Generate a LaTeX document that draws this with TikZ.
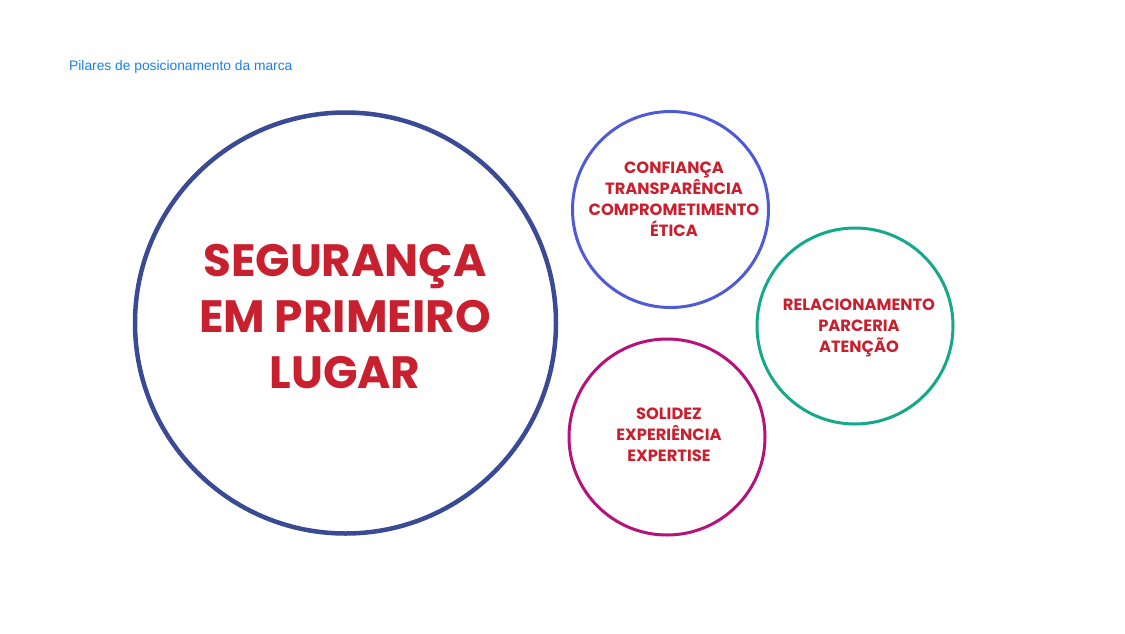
\documentclass[tikz,border=0pt]{standalone}
\usepackage{fontspec}
\setmainfont{Poppins}
\newfontfamily\titlefont{Liberation Sans}
\definecolor{navy}{HTML}{3A4A94}
\definecolor{cblue}{HTML}{4F5BD5}
\definecolor{cgreen}{HTML}{14A98A}
\definecolor{cmag}{HTML}{B5127A}
\definecolor{tred}{HTML}{C8202F}
\definecolor{ttl}{HTML}{1A7FE6}
\tikzset{
  pillar/.style={circle, line width=3pt, minimum size=196pt, inner sep=0pt},
  smalltxt/.style={text=tred, font=\bfseries\fontsize{16.3}{21}\selectfont, align=center},
  bigtxt/.style={text=tred, font=\bfseries\fontsize{45.3}{56}\selectfont, align=center}
}
\begin{document}
\begin{tikzpicture}[x=1pt,y=-1pt]
\useasboundingbox (0,0) rectangle (1125,633);
\node[anchor=west, text=ttl, font=\titlefont\fontsize{13.8}{16}\selectfont, inner sep=0pt] (title) at (69,66.5) {Pilares de posicionamento da marca};
\node[circle, draw=navy, line width=4.5pt, minimum size=421pt, inner sep=0pt] (main) at (345.5,323) {};
\node[pillar, draw=cblue] (c1) at (670.5,209.5) {};
\node[pillar, draw=cgreen] (c2) at (855,326) {};
\node[pillar, draw=cmag] (c3) at (667,437) {};
\node[bigtxt] (t0) at (345,316.5) {SEGURANÇA\\EM PRIMEIRO\\LUGAR};
\node[smalltxt] (t1) at (674,199) {CONFIANÇA\\TRANSPARÊNCIA\\COMPROMETIMENTO\\ÉTICA};
\node[smalltxt] (t2) at (859,328) {RELACIONAMENTO\\PARCERIA\\ATENÇÃO};
\node[smalltxt] (t3) at (669,435) {SOLIDEZ\\EXPERIÊNCIA\\EXPERTISE};
\end{tikzpicture}
\end{document}
